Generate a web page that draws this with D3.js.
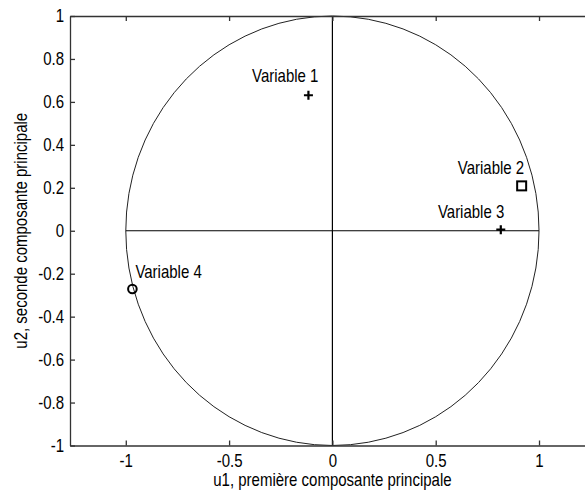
<!DOCTYPE html>
<html>
<head>
<meta charset="utf-8">
<script src="https://cdn.jsdelivr.net/npm/d3@7"></script>
<style>
  html, body { margin: 0; padding: 0; background: #fff; }
  svg { display: block; }
  text { font-family: "Liberation Sans", Arial, sans-serif; fill: #000; }
</style>
</head>
<body>
<svg id="chart" width="585" height="491"></svg>
<script>
// ---- data ----
const variables = ["Variable 1", "Variable 2", "Variable 3", "Variable 4"];
const u1Values = [-0.116, 0.916, 0.815, -0.968];
const u2Values = [0.631, 0.209, 0.005, -0.271];
const markerTypes = ["plus", "square", "plus", "circle"];
const xTicks = [-1, -0.5, 0, 0.5, 1];
const yTicks = [-1, -0.8, -0.6, -0.4, -0.2, 0, 0.2, 0.4, 0.6, 0.8, 1];
const xDomain = [-1.27, 1.3];
const yDomain = [-1, 1];
const xLabel = "u1, première composante principale";
const yLabel = "u2, seconde composante principale";

// ---- layout (label placement, pixels) ----
const labelAnchors = ["end", "end", "end", "start"];
const labelDx = [10, 2.5, 3.5, 3];
const labelDy = [-13, -12, -12, -11];

// ---- drawing ----
const svg = d3.select("#chart");
const x = d3.scaleLinear().domain(xDomain).range([70, 601]);
const y = d3.scaleLinear().domain(yDomain).range([445.5, 16]);
const fontSize = 15;
const stretchY = 1.17;

const fmt = d => (d === 0 ? "0" : String(d));

// circle of correlations (unit circle)
const N = 72;
const circlePts = d3.range(N + 1).map(i => [Math.cos(2 * Math.PI * i / N), Math.sin(2 * Math.PI * i / N)]);
svg.append("path")
  .attr("d", d3.line().x(d => x(d[0])).y(d => y(d[1]))(circlePts))
  .attr("fill", "none").attr("stroke", "#222").attr("stroke-width", 1);

// cross lines
svg.append("line").attr("x1", x(-1)).attr("x2", x(1)).attr("y1", y(0)).attr("y2", y(0))
  .attr("stroke", "#000").attr("stroke-width", 1.2);
svg.append("line").attr("x1", x(0)).attr("x2", x(0)).attr("y1", y(-1)).attr("y2", y(1))
  .attr("stroke", "#000").attr("stroke-width", 1.2);

// axes (MATLAB-style: inward ticks)
const gx = svg.append("g").attr("transform", `translate(0,${y(yDomain[0])})`)
  .call(d3.axisBottom(x).tickValues(xTicks).tickFormat(fmt).tickSizeInner(-5).tickSizeOuter(0).tickPadding(9));
const gxTop = svg.append("g").attr("transform", `translate(0,${y(yDomain[1])})`)
  .call(d3.axisTop(x).tickValues(xTicks).tickFormat("").tickSizeInner(-5).tickSizeOuter(0));
const gy = svg.append("g").attr("transform", `translate(${x(xDomain[0])},0)`)
  .call(d3.axisLeft(y).tickValues(yTicks).tickFormat(fmt).tickSizeInner(-5).tickSizeOuter(0).tickPadding(6));

[gx, gxTop, gy].forEach(g => {
  g.select(".domain").attr("stroke", "#333").attr("stroke-width", 1.3);
  g.selectAll(".tick line").attr("stroke", "#333").attr("stroke-width", 1.3);
  g.selectAll("text").attr("font-size", fontSize).attr("font-family", "Liberation Sans, Arial, sans-serif").attr("fill", "#000");
});

// axis titles
svg.append("text").attr("x", x(0)).attr("y", 486).attr("text-anchor", "middle")
  .attr("font-size", fontSize).text(xLabel);
svg.append("text").attr("transform", `translate(27,${y(0)}) rotate(-90)`).attr("text-anchor", "middle")
  .attr("font-size", fontSize).text(yLabel);

// points
const pts = variables.map((v, i) => ({ name: v, u1: u1Values[i], u2: u2Values[i], m: markerTypes[i], i }));
const g = svg.append("g");
pts.forEach(p => {
  const cx = x(p.u1), cy = y(p.u2);
  if (p.m === "plus") {
    g.append("path").attr("d", `M${cx - 4.5},${cy}H${cx + 4.5}M${cx},${cy - 4.5}V${cy + 4.5}`)
      .attr("stroke", "#000").attr("stroke-width", 2.2).attr("fill", "none");
  } else if (p.m === "square") {
    g.append("rect").attr("x", cx - 4.5).attr("y", cy - 4.5).attr("width", 9).attr("height", 9)
      .attr("stroke", "#000").attr("stroke-width", 2).attr("fill", "none");
  } else {
    g.append("circle").attr("cx", cx).attr("cy", cy).attr("r", 4.3)
      .attr("stroke", "#000").attr("stroke-width", 2).attr("fill", "none");
  }
  g.append("text").attr("x", cx + labelDx[p.i]).attr("y", cy + labelDy[p.i]).attr("text-anchor", labelAnchors[p.i])
    .attr("font-size", fontSize).text(p.name);
});

// stretch all glyphs vertically (taller bitmap-like font of the original)
svg.selectAll("text").each(function () {
  const t = d3.select(this);
  const tx = +t.attr("x") || 0, ty = +t.attr("y") || 0;
  const prev = t.attr("transform") || "";
  t.attr("x", 0).attr("y", 0)
    .attr("transform", `${prev} translate(${tx},${ty}) scale(1,${stretchY})`);
});
</script>
</body>
</html>
